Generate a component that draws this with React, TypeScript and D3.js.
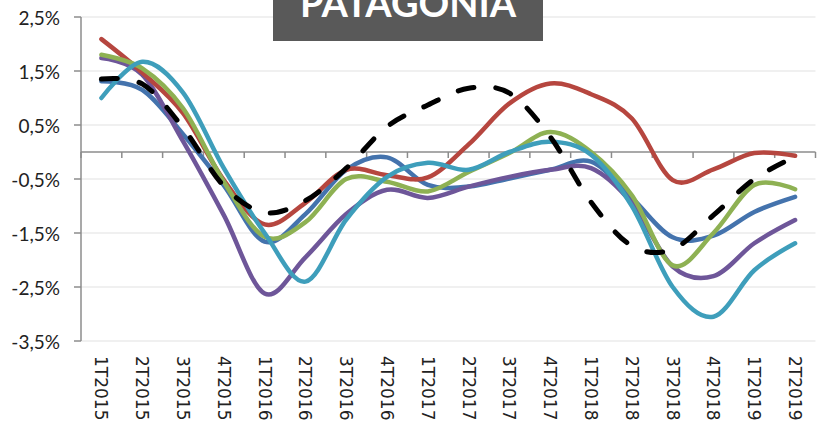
import React from 'react';
import * as d3 from 'd3';

const quarters = [
  '1T2015', '2T2015', '3T2015', '4T2015',
  '1T2016', '2T2016', '3T2016', '4T2016',
  '1T2017', '2T2017', '3T2017', '4T2017',
  '1T2018', '2T2018', '3T2018', '4T2018',
  '1T2019', '2T2019',
];

// values in %
const redSeries = [2.09, 1.47, 0.72, -0.52, -1.34, -0.94, -0.33, -0.43, -0.47, 0.14, 0.9, 1.27, 1.07, 0.62, -0.52, -0.32, -0.02, -0.07];
const greenSeries = [1.8, 1.55, 0.81, -0.55, -1.57, -1.3, -0.5, -0.55, -0.73, -0.37, -0.02, 0.37, 0.0, -0.8, -2.1, -1.5, -0.61, -0.69];
const blueSeries = [1.31, 1.15, 0.33, -0.62, -1.66, -1.15, -0.33, -0.1, -0.61, -0.64, -0.49, -0.33, -0.18, -0.85, -1.58, -1.55, -1.11, -0.83];
const purpleSeries = [1.74, 1.43, 0.2, -1.17, -2.62, -1.95, -1.15, -0.7, -0.85, -0.64, -0.46, -0.33, -0.3, -0.95, -2.12, -2.3, -1.69, -1.26];
const tealSeries = [1.0, 1.67, 1.1, -0.3, -1.5, -2.4, -1.25, -0.46, -0.2, -0.33, 0.0, 0.19, -0.05, -1.0, -2.5, -3.05, -2.19, -1.69];
const dashedSeries = [1.35, 1.26, 0.45, -0.63, -1.12, -0.9, -0.3, 0.47, 0.87, 1.18, 1.09, 0.28, -0.93, -1.74, -1.8, -1.17, -0.5, -0.09];

const yTicks = [2.5, 1.5, 0.5, -0.5, -1.5, -2.5, -3.5];

const W = 820;
const H = 433;
const left = 81;
const right = 815.5;
const top = 17;
const bottom = 341;

const fmt = (v: number) => `${v.toFixed(1).replace('.', ',')}%`;

export default function App() {
  const x = d3.scalePoint<string>().domain(quarters).range([left, right]).padding(0.5);
  const y = d3.scaleLinear().domain([-3.5, 2.5]).range([bottom, top]);
  const step = x.step();

  const line = d3
    .line<number>()
    .x((_, i) => x(quarters[i]) as number)
    .y((d) => y(d))
    .curve(d3.curveCardinal.tension(0));

  const solid = [
    { data: blueSeries, color: '#4473AD' },
    { data: purpleSeries, color: '#6E5699' },
    { data: redSeries, color: '#B6463F' },
    { data: greenSeries, color: '#8EB153' },
    { data: tealSeries, color: '#3E9EBB' },
  ];

  const boundaries = d3.range(quarters.length + 1).map((i) => left + i * step);

  return (
    <svg width={W} height={H} style={{ position: 'absolute', left: 0, top: 0, background: '#fff' }}>
      {/* gridlines */}
      {yTicks.map((t) => (
        <line key={t} x1={left} x2={right} y1={y(t)} y2={y(t)} stroke="#EBEBEB" strokeWidth={1.5} />
      ))}

      {/* y axis */}
      <line x1={left} x2={left} y1={top} y2={bottom} stroke="#8C8C8C" strokeWidth={1.5} />
      {yTicks.map((t) => (
        <g key={'yt' + t}>
          <line x1={left - 7} x2={left} y1={y(t)} y2={y(t)} stroke="#8C8C8C" strokeWidth={1.5} />
          <text
            x={60}
            y={y(t)}
            textAnchor="end"
            dominantBaseline="central"
            fontFamily="Lato, sans-serif"
            fontSize={19}
            fill="#222"
          >
            {fmt(t)}
          </text>
        </g>
      ))}

      {/* x axis at zero */}
      <line x1={left} x2={right} y1={y(0)} y2={y(0)} stroke="#8C8C8C" strokeWidth={1.5} />
      {boundaries.map((bx, i) => (
        <line key={'xt' + i} x1={bx} x2={bx} y1={y(0)} y2={y(0) + 6} stroke="#8C8C8C" strokeWidth={1.5} />
      ))}

      {/* x labels */}
      {quarters.map((q) => (
        <text
          key={q}
          transform={`translate(${x(q)},356) rotate(90)`}
          textAnchor="start"
          dominantBaseline="central"
          fontFamily="'DejaVu Sans', sans-serif"
          fontSize={17}
          fill="#222"
        >
          {q}
        </text>
      ))}

      {/* series */}
      {solid.map((s, i) => (
        <path
          key={i}
          d={line(s.data) as string}
          fill="none"
          stroke={s.color}
          strokeWidth={4.5}
          strokeLinecap="round"
          strokeLinejoin="round"
        />
      ))}
      <path
        d={line(dashedSeries) as string}
        fill="none"
        stroke="#000"
        strokeWidth={5}
        strokeDasharray="16,22"
        strokeLinecap="round"
      />

      {/* title box */}
      <rect x={273} y={-5} width={270} height={46} fill="#595959" />
      <text
        x={408}
        y={17}
        textAnchor="middle"
        fontFamily="Lato, sans-serif"
        fontWeight={700}
        fontSize={38}
        fill="#fff"
      >
        PATAGONIA
      </text>
    </svg>
  );
}
